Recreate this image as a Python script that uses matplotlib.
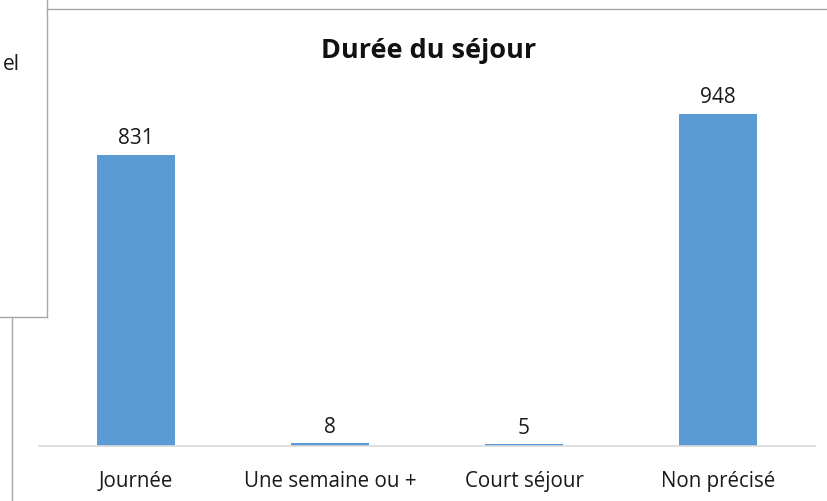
import matplotlib
matplotlib.use("Agg")
import matplotlib.pyplot as plt
from matplotlib.lines import Line2D

categories = ["Journée", "Une semaine ou +", "Court séjour", "Non précisé"]
values = [831, 8, 5, 948]
title = "Durée du séjour"

plt.rcParams['font.family'] = ['Open Sans', 'DejaVu Sans']

W, H = 828, 502
fig = plt.figure(figsize=(W / 100, H / 100), dpi=100)
fig.patch.set_facecolor("white")

def fx(px):
    return px / W

def fy(py):
    return 1 - py / H

# axes: x from 39 to 815 px, baseline at 447 px, top at ~96 px for ylim 1000
ax = fig.add_axes([fx(39), fy(447), fx(815) - fx(39), (447 - 96.4) / H])
x = list(range(len(categories)))
bars = ax.bar(x, values, width=0.4, color="#5B9BD5", zorder=2)
ax.set_xlim(-0.5, len(categories) - 0.5)
ax.set_ylim(0, 1000)
for s in ["top", "right", "left"]:
    ax.spines[s].set_visible(False)
ax.spines["bottom"].set_color("#D9D9D9")
ax.spines["bottom"].set_linewidth(1.2)
ax.set_yticks([])
ax.set_xticks(x)
ax.set_xticklabels(categories, fontsize=14.8, color="#1a1a1a")
ax.tick_params(axis="x", length=0, pad=17)
ax.patch.set_alpha(0)
for b, v in zip(bars, values):
    ax.annotate(str(v), (b.get_x() + b.get_width() / 2, v), xytext=(0, 12.3),
                textcoords="offset points", ha="center", va="center",
                fontsize=15, color="#1a1a1a")

fig.text(fx(429), fy(51), title, ha="center", va="center",
         fontsize=19.5, fontweight="bold", color="#111111")

# surrounding UI lines from screenshot
gray = "#A6A6A6"
fig.add_artist(Line2D([fx(47), fx(47)], [fy(0), fy(318)], color=gray, lw=1))
fig.add_artist(Line2D([fx(0), fx(47)], [fy(318), fy(318)], color=gray, lw=1))
fig.add_artist(Line2D([fx(12), fx(12)], [fy(318), fy(502)], color=gray, lw=1))
fig.add_artist(Line2D([fx(47), fx(828)], [fy(10), fy(10)], color=gray, lw=1))
fig.text(fx(20), fy(65), "el", ha="right", va="center", fontsize=15, color="#1a1a1a")

fig.savefig("out.png", dpi=100, facecolor="white")
